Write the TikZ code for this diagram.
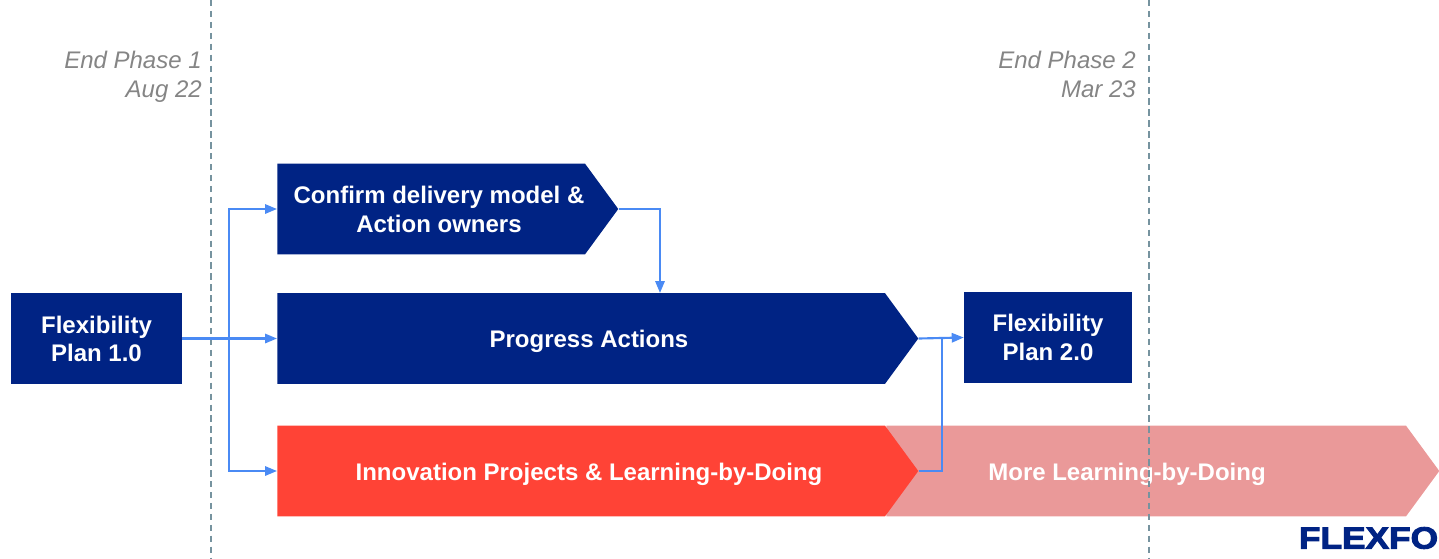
\documentclass[tikz,border=0pt]{standalone}
\usepackage{xcolor}
\usepackage{graphicx}
\usepackage{fontspec}
\usetikzlibrary{arrows.meta,shapes.symbols}
\setmainfont{Liberation Sans}
\newfontfamily\logofont[FakeBold=3]{Liberation Sans}
\definecolor{navyblue}{HTML}{002384}
\definecolor{brightred}{HTML}{FF4336}
\definecolor{palered}{HTML}{EA9999}
\definecolor{linkblue}{HTML}{4A8AF4}
\definecolor{phasegrey}{HTML}{76939F}
\definecolor{notegrey}{HTML}{858585}
\tikzset{
  planbox/.style={fill=navyblue, text=white, font=\bfseries\fontsize{18}{22}\selectfont, align=center, minimum height=68pt, inner sep=0pt},
  bar/.style={shape=signal, signal to=east, signal pointer angle=107.5, fill=#1, minimum height=68pt, inner sep=0pt, anchor=west},
  barlabel/.style={text=white, font=\bfseries\fontsize{18}{22}\selectfont, align=center, inner sep=0pt},
  phasenote/.style={text=notegrey, font=\itshape\fontsize{18}{22}\selectfont, align=right, anchor=north east, inner sep=0pt},
  phaseline/.style={draw=phasegrey, line width=1.5pt, dash pattern=on 4.8pt off 3.4pt},
  link/.style={draw=linkblue, line width=1.6pt},
  linkarrow/.style={link, -{Triangle[length=9pt,width=7pt]}}
}
\begin{document}
\begin{tikzpicture}[x=0.75pt, y=-0.75pt]
  \useasboundingbox (0, 0) rectangle (1439, 558);

  \node[bar=palered, minimum width=414.75pt] (more) at (886, 471) {};
  \node[bar=brightred, minimum width=480.75pt] (innovation) at (277, 471) {};
  \node[bar=navyblue, minimum width=480.75pt] (progress) at (277, 338.5) {};
  \node[bar=navyblue, minimum width=255.75pt] (confirm) at (277, 209) {};
  \node[planbox, minimum width=128.25pt] (planone) at (96.5, 338.5) {\raisebox{-1pt}{Flexibility}\\Plan 1.0};
  \node[planbox, minimum width=126pt] (plantwo) at (1048, 337.5) {\raisebox{-1pt}{Flexibility}\\\raisebox{-1pt}{Plan 2.0}};

  \node[barlabel] (confirmtext) at (439, 209.5) {Confirm delivery model \&\\Action owners};
  \node[barlabel] (progresstext) at (589, 341) {Progress Actions};
  \node[barlabel] (innovationtext) at (589, 474) {Innovation Projects \& Learning-by-Doing};
  \node[barlabel] (moretext) at (1127, 474) {More Learning-by-Doing};

  \coordinate (phaseonetop) at (210.5, 0);
  \coordinate (phaseonebottom) at (210.5, 558);
  \coordinate (phasetwotop) at (1149, 0);
  \coordinate (phasetwobottom) at (1149, 558);
  \draw[phaseline] (phaseonetop) -- (phaseonebottom);
  \draw[phaseline] (phasetwotop) -- (phasetwobottom);

  \node[phasenote] (phaseonenote) at (202, 50.5) {End Phase 1\\Aug 22};
  \node[phasenote] (phasetwonote) at (1136, 50.5) {End Phase 2\\Mar 23};

  \coordinate (branch) at (229, 339);
  \coordinate (join) at (942, 339);
  \draw[linkarrow] (planone.east) -- (progress.west);
  \draw[linkarrow] (branch) |- (confirm.west);
  \draw[linkarrow] (branch) |- (innovation.west);
  \draw[linkarrow] (confirm.east) -| (660, 293);
  \draw[linkarrow] (progress.east) -- (plantwo.west);
  \draw[link] (innovation.east) -| (join);

  \node[text=navyblue, font=\logofont\bfseries\fontsize{23}{23}\selectfont, inner sep=0pt] (logo) at (1368.5, 538) {\scalebox{1.15}[1]{FLEXFO}};
\end{tikzpicture}
\end{document}
